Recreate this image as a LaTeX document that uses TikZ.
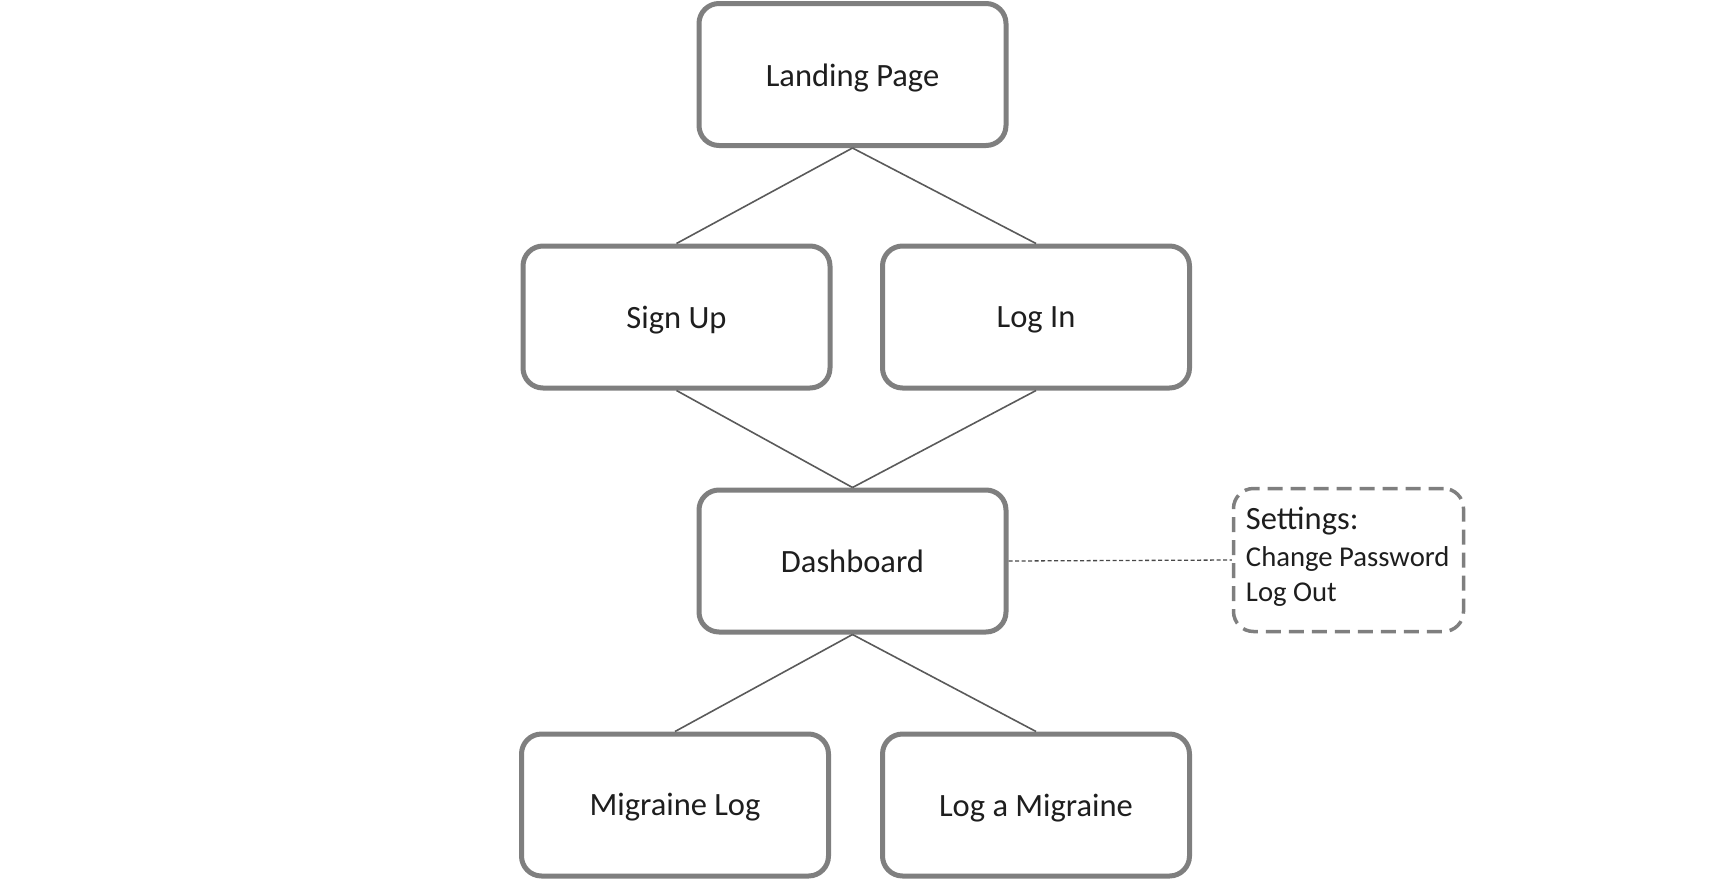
\documentclass[tikz,border=0pt]{standalone}
\usepackage{fontspec}
\setmainfont{Carlito}
\definecolor{boxgray}{HTML}{7F7F7F}
\definecolor{linegray}{HTML}{5A5A5A}
\definecolor{txt}{HTML}{1E1E1E}
\newcommand{\lowertext}[2]{\raisebox{-#1}[\height][\depth]{#2}}
\begin{document}
\begin{tikzpicture}[x=1pt,y=-1pt,
  pagebox/.style={draw=boxgray, line width=5pt, rounded corners=20pt, fill=white,
    minimum width=307pt, minimum height=142pt, inner sep=0pt, text=txt,
    font=\fontsize{32.5}{38}\selectfont},
  settingsbox/.style={draw=boxgray, line width=3.5pt, dash pattern=on 15pt off 8pt,
    rounded corners=20pt, minimum width=230pt, minimum height=143pt, inner sep=0pt,
    align=left, text=txt, font=\fontsize{28.7}{35}\selectfont},
  link/.style={draw=linegray, line width=1.6pt},
  dotlink/.style={draw=linegray!80!black, line width=1.3pt, dash pattern=on 4pt off 2.5pt}
]
\useasboundingbox (0,0) rectangle (1714,884);
\node[pagebox] (landing) at (852.5,74.5) {\lowertext{3.3pt}{Landing Page}};
\node[pagebox] (signup) at (676.5,317) {\lowertext{3.3pt}{Sign Up}};
\node[pagebox] (login) at (1036,317) {\lowertext{3.3pt}{Log In}};
\node[pagebox] (dash) at (852.5,561) {Dashboard};
\node[pagebox] (mlog) at (675,805) {\lowertext{2.2pt}{Migraine Log}};
\node[pagebox] (logm) at (1036,805) {\lowertext{3pt}{Log a Migraine}};
\node[settingsbox] (settings) at (1348.5,560) {};
\node[anchor=west, align=left, text=txt, font=\fontsize{28.7}{35}\selectfont, inner sep=0pt]
  (settingstext) at ([xshift=14pt,yshift=3.6pt]settings.west)
  {{\fontsize{32.5}{38}\selectfont Settings:}\\[2pt]Change Password\\Log Out};
\draw[link] (landing.south) -- (signup.north);
\draw[link] (landing.south) -- (login.north);
\draw[link] (signup.south) -- (dash.north);
\draw[link] (login.south) -- (dash.north);
\draw[link] (dash.south) -- (mlog.north);
\draw[link] (dash.south) -- (logm.north);
\draw[dotlink] (dash.east) -- (settings.west);
\end{tikzpicture}
\end{document}
